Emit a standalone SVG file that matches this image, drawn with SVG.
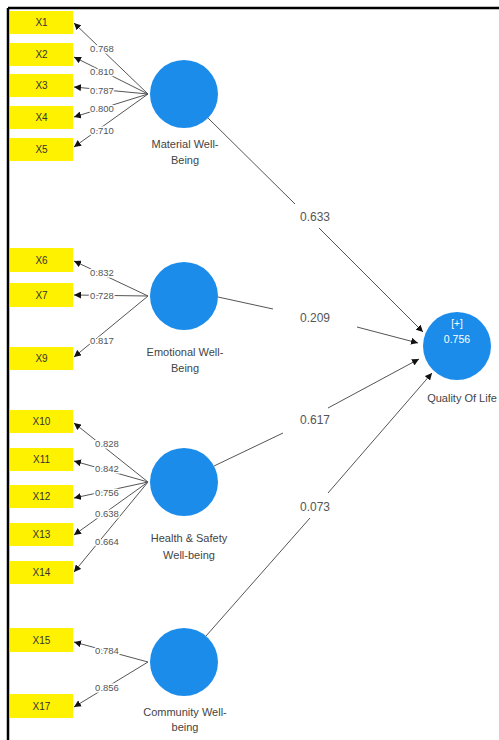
<svg xmlns="http://www.w3.org/2000/svg" width="499" height="740" viewBox="0 0 499 740">
<defs>
<style>
.box{fill:#FFF200}
.bt{font-family:"Liberation Sans",Arial,sans-serif;font-size:10px;fill:#333;text-anchor:middle}
.lv{fill:#1C8CEB}
.nl{font-family:"Liberation Sans",Arial,sans-serif;font-size:11px;fill:#444;text-anchor:middle}
.ld{font-family:"Liberation Sans",Arial,sans-serif;font-size:9.5px;fill:#555;text-anchor:middle;stroke:#fff;stroke-width:3;paint-order:stroke}
.pl{font-family:"Liberation Sans",Arial,sans-serif;font-size:12px;fill:#555;text-anchor:middle}
.ln{stroke:#555;stroke-width:1;fill:none}
.ar{marker-end:url(#ah)}
</style>
<marker id="ah" viewBox="0 0 10 10" refX="10" refY="5" markerWidth="7" markerHeight="7" markerUnits="userSpaceOnUse" orient="auto">
<path d="M0,0L10,5L0,10z" fill="#111"/>
</marker>
</defs>
<rect width="499" height="740" fill="#fff"/>
<path d="M8,8H499M8,8V740" stroke="#000" stroke-width="2.5" fill="none"/>

<g id="connectors">
<line class="ln ar" x1="148" y1="94" x2="74" y2="23"/>
<line class="ln ar" x1="148" y1="94" x2="74" y2="57"/>
<line class="ln ar" x1="148" y1="94" x2="74" y2="87"/>
<line class="ln ar" x1="148" y1="94" x2="74" y2="117"/>
<line class="ln ar" x1="148" y1="94" x2="74" y2="147"/>
<line class="ln ar" x1="148" y1="296" x2="74" y2="261"/>
<line class="ln ar" x1="148" y1="296" x2="74" y2="295"/>
<line class="ln ar" x1="148" y1="296" x2="74" y2="357"/>
<line class="ln ar" x1="148" y1="482" x2="74" y2="423"/>
<line class="ln ar" x1="148" y1="482" x2="74" y2="461"/>
<line class="ln ar" x1="148" y1="482" x2="74" y2="498"/>
<line class="ln ar" x1="148" y1="482" x2="74" y2="535"/>
<line class="ln ar" x1="148" y1="482" x2="74" y2="572"/>
<line class="ln ar" x1="148" y1="662" x2="74" y2="642"/>
<line class="ln ar" x1="148" y1="662" x2="74" y2="707"/>
<line class="ln" x1="208" y1="118" x2="295" y2="204"/>
<line class="ln ar" x1="319" y1="228" x2="423" y2="332"/>
<line class="ln" x1="218" y1="297" x2="273" y2="309"/>
<line class="ln ar" x1="357" y1="327" x2="418" y2="343"/>
<line class="ln" x1="214" y1="466" x2="283" y2="433"/>
<line class="ln ar" x1="328" y1="408" x2="419" y2="359"/>
<line class="ln" x1="206" y1="636" x2="310" y2="518"/>
<line class="ln ar" x1="328" y1="493" x2="432" y2="373"/>
<text class="ld" x="102" y="52">0.768</text>
<text class="ld" x="102" y="75">0.810</text>
<text class="ld" x="102" y="94">0.787</text>
<text class="ld" x="102" y="112">0.800</text>
<text class="ld" x="102" y="134">0.710</text>
<text class="ld" x="102" y="276">0.832</text>
<text class="ld" x="102" y="299">0.728</text>
<text class="ld" x="102" y="344">0.817</text>
<text class="ld" x="107" y="447">0.828</text>
<text class="ld" x="107" y="472">0.842</text>
<text class="ld" x="107" y="496">0.756</text>
<text class="ld" x="107" y="517">0.638</text>
<text class="ld" x="107" y="545">0.664</text>
<text class="ld" x="107" y="654">0.784</text>
<text class="ld" x="107" y="691">0.856</text>
<text class="pl" x="315" y="221">0.633</text>
<text class="pl" x="315" y="322">0.209</text>
<text class="pl" x="315" y="424">0.617</text>
<text class="pl" x="315" y="511">0.073</text>
</g>

<g id="X1"><rect class="box" x="10" y="11" width="63" height="23"/><text class="bt" x="41.5" y="26">X1</text></g>
<g id="X2"><rect class="box" x="10" y="43" width="63" height="23"/><text class="bt" x="41.5" y="58">X2</text></g>
<g id="X3"><rect class="box" x="10" y="74" width="63" height="23"/><text class="bt" x="41.5" y="89">X3</text></g>
<g id="X4"><rect class="box" x="10" y="106" width="63" height="23"/><text class="bt" x="41.5" y="121">X4</text></g>
<g id="X5"><rect class="box" x="10" y="138" width="63" height="23"/><text class="bt" x="41.5" y="153">X5</text></g>
<g id="X6"><rect class="box" x="10" y="248" width="63" height="24"/><text class="bt" x="41.5" y="263.5">X6</text></g>
<g id="X7"><rect class="box" x="10" y="283" width="63" height="24"/><text class="bt" x="41.5" y="298.5">X7</text></g>
<g id="X9"><rect class="box" x="10" y="347" width="63" height="23"/><text class="bt" x="41.5" y="362">X9</text></g>
<g id="X10"><rect class="box" x="10" y="410" width="63" height="23"/><text class="bt" x="41.5" y="425">X10</text></g>
<g id="X11"><rect class="box" x="10" y="448" width="63" height="23"/><text class="bt" x="41.5" y="463">X11</text></g>
<g id="X12"><rect class="box" x="10" y="485" width="63" height="23"/><text class="bt" x="41.5" y="500">X12</text></g>
<g id="X13"><rect class="box" x="10" y="523" width="63" height="23"/><text class="bt" x="41.5" y="538">X13</text></g>
<g id="X14"><rect class="box" x="10" y="561" width="63" height="23"/><text class="bt" x="41.5" y="576">X14</text></g>
<g id="X15"><rect class="box" x="10" y="628" width="63" height="24"/><text class="bt" x="41.5" y="643.5">X15</text></g>
<g id="X17"><rect class="box" x="10" y="694" width="63" height="24"/><text class="bt" x="41.5" y="709.5">X17</text></g>

<g id="material"><circle class="lv" cx="184" cy="94" r="34"/><text class="nl" x="185" y="148">Material Well-</text><text class="nl" x="185" y="164">Being</text></g>
<g id="emotional"><circle class="lv" cx="184" cy="296" r="34"/><text class="nl" x="185" y="356">Emotional Well-</text><text class="nl" x="185" y="372">Being</text></g>
<g id="health"><circle class="lv" cx="184" cy="482" r="34"/><text class="nl" x="189" y="542">Health &amp; Safety</text><text class="nl" x="189" y="559">Well-being</text></g>
<g id="community"><circle class="lv" cx="184" cy="662" r="34"/><text class="nl" x="185" y="716">Community Well-</text><text class="nl" x="185" y="731">being</text></g>
<g id="qol"><circle class="lv" cx="457" cy="346" r="34"/><text class="nl" x="457" y="327" style="fill:#fff;font-size:10px">[+]</text><text class="nl" x="457" y="343" style="fill:#fff;font-size:10.5px">0.756</text><text class="nl" x="462" y="402">Quality Of Life</text></g>
</svg>
